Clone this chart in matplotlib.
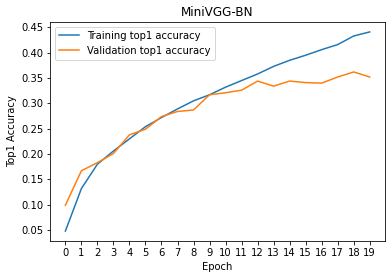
import numpy as np
import matplotlib
matplotlib.use('Agg')
import matplotlib.pyplot as plt

epochs = np.arange(20)
train_acc = [0.048, 0.132, 0.180, 0.206, 0.230, 0.254, 0.272, 0.289, 0.305, 0.317,
             0.332, 0.345, 0.358, 0.373, 0.385, 0.395, 0.406, 0.416, 0.433, 0.441]
val_acc = [0.099, 0.167, 0.183, 0.201, 0.238, 0.249, 0.274, 0.284, 0.287, 0.317,
           0.321, 0.326, 0.344, 0.334, 0.344, 0.341, 0.340, 0.352, 0.362, 0.352]

fig = plt.figure(figsize=(392 / 72, 278 / 72), dpi=72)
ax = fig.add_subplot(111)
fig.subplots_adjust(left=0.128, right=0.982, top=0.921, bottom=0.133)

ax.plot(epochs, train_acc, label='Training top1 accuracy')
ax.plot(epochs, val_acc, label='Validation top1 accuracy')
ax.set_xticks(epochs)
ax.set_title('MiniVGG-BN')
ax.set_xlabel('Epoch')
ax.set_ylabel('Top1 Accuracy')
ax.legend(loc='upper left')

fig.savefig('out.png', dpi=72)
